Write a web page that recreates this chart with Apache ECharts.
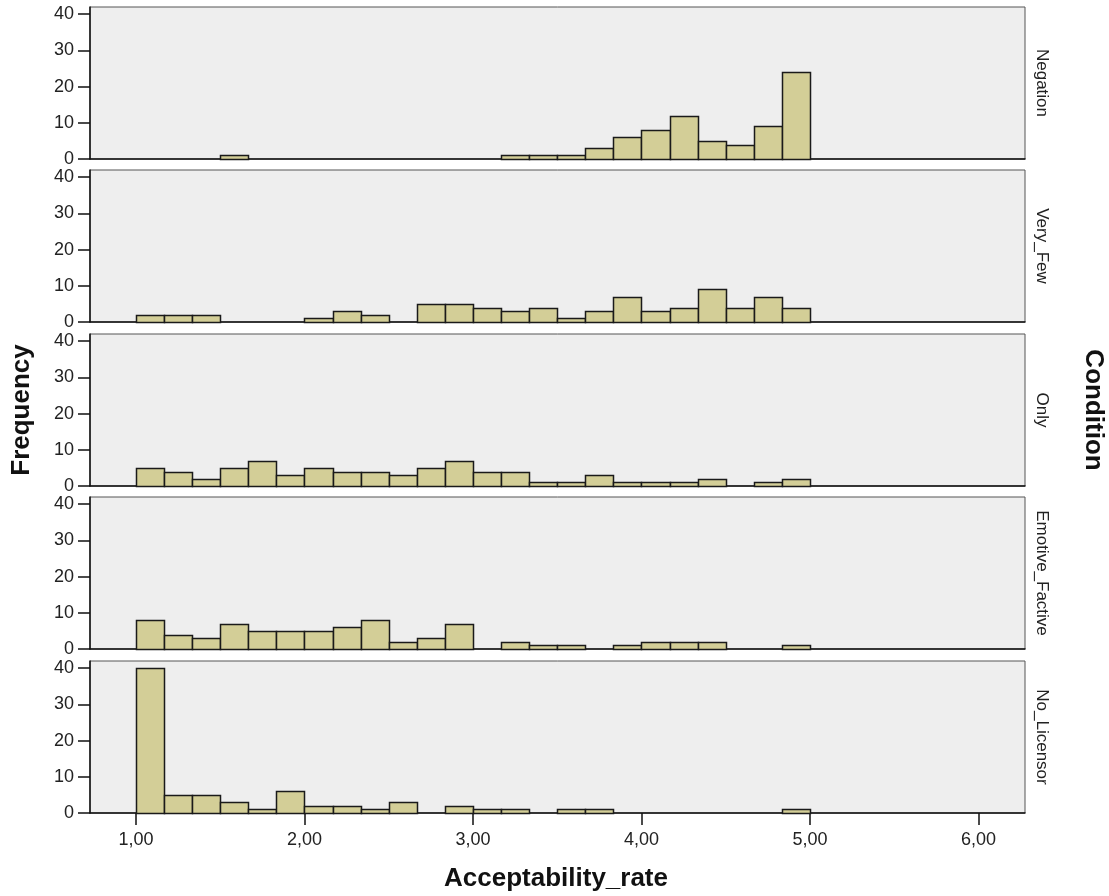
<!DOCTYPE html>
<html>
<head>
<meta charset="utf-8">
<script src="https://cdn.jsdelivr.net/npm/echarts@6/dist/echarts.min.js"></script>
<style>
html,body{margin:0;padding:0;background:#ffffff;}
#chart{width:1109px;height:896px;}
</style>
</head>
<body>
<div id="chart"></div>
<script>
// ---- data ----
const conditions = ['Negation', 'Very_Few', 'Only', 'Emotive_Factive', 'No_Licensor'];
const binStart = 1.0;
const binWidth = 1 / 6;
const negation       = [0,0,0,1,0,0,0,0,0,0,0,0,0,1,1,1,3,6,8,12,5,4,9,24];
const veryFew        = [2,2,2,0,0,0,1,3,2,0,5,5,4,3,4,1,3,7,3,4,9,4,7,4];
const only           = [5,4,2,5,7,3,5,4,4,3,5,7,4,4,1,1,3,1,1,1,2,0,1,2];
const emotiveFactive = [8,4,3,7,5,5,5,6,8,2,3,7,0,2,1,1,0,1,2,2,2,0,0,1];
const noLicensor     = [40,5,5,3,1,6,2,2,1,3,0,2,1,1,0,1,1,0,0,0,0,0,0,1];
const panelCounts = [negation, veryFew, only, emotiveFactive, noLicensor];
const xTicks = [1, 2, 3, 4, 5, 6];
const yTicks = [0, 10, 20, 30, 40];
const xTitle = 'Acceptability_rate';
const yTitle = 'Frequency';
const facetTitle = 'Condition';

// ---- layout ----
const FONT = '"Liberation Sans", Arial, sans-serif';
const gridLeft = 90, gridWidth = 935, gridHeight = 152;
const gridTops = [7, 170, 334, 497, 661];
const xMin = 0.727, xMax = 6.276, yMax = 42;

const chart = echarts.init(document.getElementById('chart'), null, {renderer: 'canvas'});

const grids = [], xAxes = [], yAxes = [], series = [], graphics = [];
panelCounts.forEach((counts, i) => {
  const isLast = i === panelCounts.length - 1;
  grids.push({
    left: gridLeft, top: gridTops[i], width: gridWidth, height: gridHeight,
    show: true, backgroundColor: '#eeeeee', borderColor: '#555555', borderWidth: 1
  });
  xAxes.push({
    type: 'value', gridIndex: i, min: xMin, max: xMax,
    axisLine: {show: true, onZero: false, lineStyle: {color: '#111', width: 1.5}},
    axisTick: {show: isLast, length: 12, inside: false, customValues: xTicks, lineStyle: {color: '#111', width: 1.5}},
    axisLabel: {show: isLast, customValues: xTicks, margin: 18, color: '#222', fontSize: 18, fontFamily: FONT,
      formatter: v => v.toFixed(2).replace('.', ',')},
    splitLine: {show: false}
  });
  yAxes.push({
    type: 'value', gridIndex: i, min: 0, max: yMax,
    axisLine: {show: true, lineStyle: {color: '#111', width: 1.5}},
    axisTick: {show: true, length: 12, customValues: yTicks, lineStyle: {color: '#111', width: 1.5}},
    axisLabel: {show: true, customValues: yTicks, margin: 16, color: '#222', fontSize: 18, fontFamily: FONT},
    splitLine: {show: false}
  });
  const data = counts.map((c, b) => [binStart + b * binWidth, binStart + (b + 1) * binWidth, c]);
  series.push({
    type: 'custom', xAxisIndex: i, yAxisIndex: i, data: data,
    encode: {x: [0, 1], y: 2},
    renderItem: function (params, api) {
      const v = api.value(2);
      if (!v) return null;
      const p0 = api.coord([api.value(0), 0]);
      const p1 = api.coord([api.value(1), v]);
      const x = Math.round(p0[0]) + 0.5, x2 = Math.round(p1[0]) + 0.5;
      const y = Math.round(p1[1]) + 0.5, y2 = Math.round(p0[1]) + 0.5;
      return {
        type: 'rect',
        shape: {x: x, y: y, width: x2 - x, height: y2 - y},
        style: {fill: '#d3ce97', stroke: '#1a1a1a', lineWidth: 1.5}
      };
    },
    z: 3
  });
  graphics.push({
    type: 'text', x: gridLeft + gridWidth + 17, y: gridTops[i] + gridHeight / 2,
    rotation: -Math.PI / 2,
    style: {text: conditions[i], fill: '#222', font: '17px ' + FONT, textAlign: 'center', textVerticalAlign: 'middle'}
  });
});

graphics.push({
  type: 'text', x: 1093, y: 410, rotation: -Math.PI / 2,
  style: {text: facetTitle, fill: '#111', font: 'bold 26px ' + FONT, textAlign: 'center', textVerticalAlign: 'middle'}
});
graphics.push({
  type: 'text', x: 22, y: 410, rotation: Math.PI / 2,
  style: {text: yTitle, fill: '#111', font: 'bold 26px ' + FONT, textAlign: 'center', textVerticalAlign: 'middle'}
});
graphics.push({
  type: 'text', x: 556, y: 879,
  style: {text: xTitle, fill: '#111', font: 'bold 26px ' + FONT, textAlign: 'center', textVerticalAlign: 'middle'}
});

chart.setOption({
  animation: false,
  backgroundColor: '#ffffff',
  grid: grids,
  xAxis: xAxes,
  yAxis: yAxes,
  series: series,
  graphic: graphics
});
</script>
</body>
</html>
